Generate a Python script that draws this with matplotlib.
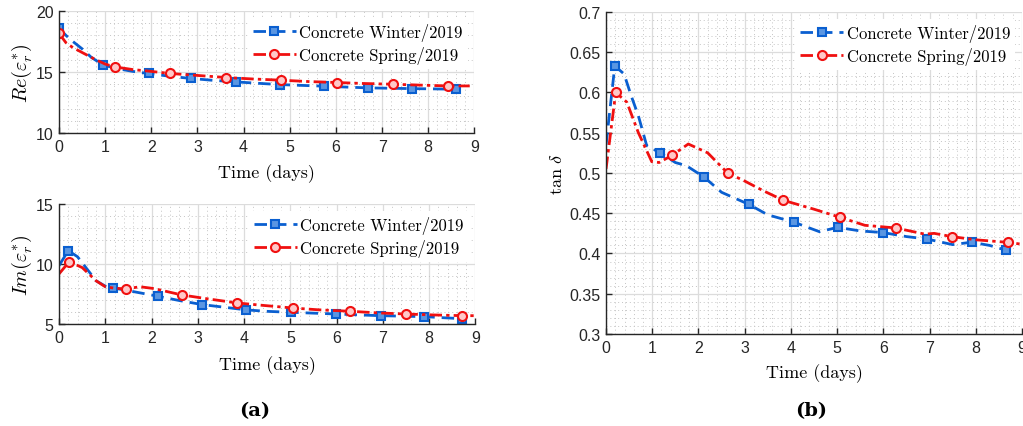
import matplotlib
matplotlib.use("Agg")
import matplotlib.pyplot as plt
from matplotlib.ticker import MultipleLocator

plt.rcParams['mathtext.fontset'] = 'cm'
plt.rcParams['axes.unicode_minus'] = False

SERIF = 'cmr10'
SANS = 'Liberation Sans'

series_names = ["Concrete Winter/2019", "Concrete Spring/2019"]

# --- Real part (Re) ---
re_w_t = [0.0, 0.15, 0.3, 0.5, 0.7, 0.96, 1.3, 1.6, 1.94, 2.4, 2.87, 3.3, 3.84, 4.3, 4.79, 5.3, 5.75, 6.2, 6.7, 7.2, 7.64, 8.1, 8.61]
re_w_v = [18.58, 18.0, 17.5, 16.9, 16.2, 15.56, 15.25, 15.05, 14.88, 14.65, 14.47, 14.33, 14.19, 14.08, 13.97, 13.9, 13.84, 13.77, 13.70, 13.67, 13.64, 13.62, 13.59]
re_w_mark = [0, 5, 8, 10, 12, 14, 16, 18, 20, 22]

re_s_t = [0.0, 0.15, 0.3, 0.5, 0.75, 1.0, 1.21, 1.6, 2.0, 2.41, 3.0, 3.62, 4.2, 4.82, 5.4, 6.02, 6.6, 7.23, 7.8, 8.43, 8.9]
re_s_v = [18.16, 17.4, 17.0, 16.6, 16.1, 15.65, 15.42, 15.2, 15.05, 14.88, 14.72, 14.55, 14.43, 14.33, 14.22, 14.14, 14.06, 14.0, 13.93, 13.86, 13.86]
re_s_mark = [0, 6, 9, 11, 13, 15, 17, 19]

# --- Imaginary part (Im) ---
im_w_t = [0.0, 0.2, 0.4, 0.6, 0.8, 1.0, 1.17, 1.6, 2.14, 2.6, 3.1, 3.6, 4.05, 4.5, 5.02, 5.5, 5.99, 6.5, 6.95, 7.4, 7.9, 8.3, 8.7]
im_w_v = [9.86, 11.11, 10.6, 9.6, 8.6, 8.15, 8.0, 7.7, 7.31, 6.95, 6.61, 6.38, 6.17, 6.05, 5.97, 5.9, 5.83, 5.75, 5.69, 5.65, 5.61, 5.52, 5.44]
im_w_mark = [1, 6, 8, 10, 12, 14, 16, 18, 20, 22]

im_s_t = [0.0, 0.22, 0.5, 0.8, 1.0, 1.2, 1.44, 1.75, 2.05, 2.65, 3.2, 3.85, 4.4, 5.05, 5.6, 6.28, 6.9, 7.49, 8.1, 8.71, 9.0]
im_s_v = [9.17, 10.19, 9.7, 8.6, 8.1, 7.98, 7.92, 8.1, 7.95, 7.42, 7.1, 6.75, 6.55, 6.33, 6.18, 6.06, 5.92, 5.83, 5.75, 5.69, 5.69]
im_s_mark = [1, 6, 9, 11, 13, 15, 17, 19]

# --- Loss tangent (tan delta) ---
tan_w_t = [0.0, 0.19, 0.39, 0.55, 0.7, 0.88, 1.17, 1.5, 1.74, 2.12, 2.5, 3.09, 3.5, 4.06, 4.62, 5.01, 5.5, 5.99, 6.5, 6.94, 7.5, 7.91, 8.3, 8.66]
tan_w_v = [0.535, 0.633, 0.623, 0.595, 0.571, 0.534, 0.525, 0.513, 0.509, 0.495, 0.476, 0.461, 0.448, 0.439, 0.427, 0.4325, 0.428, 0.426, 0.421, 0.418, 0.411, 0.414, 0.410, 0.404]
tan_w_mark = [1, 6, 9, 11, 13, 15, 17, 19, 21, 23]

tan_s_t = [0.0, 0.21, 0.45, 0.7, 0.99, 1.15, 1.43, 1.78, 2.2, 2.63, 3.0, 3.4, 3.84, 4.5, 5.06, 5.6, 6.27, 6.9, 7.1, 7.48, 8.0, 8.7, 8.97]
tan_s_v = [0.505, 0.600, 0.588, 0.55, 0.514, 0.513, 0.522, 0.536, 0.525, 0.500, 0.490, 0.478, 0.466, 0.455, 0.445, 0.435, 0.4317, 0.424, 0.425, 0.421, 0.417, 0.4138, 0.4117]
tan_s_mark = [1, 6, 9, 12, 14, 16, 19, 21]

BLUE = '#0a5fd0'
RED = '#f01010'

fig = plt.figure(figsize=(10.23, 4.27), dpi=100)

def style_axes(ax, xlim, ylim, ymajor, yminor):
    ax.set_xlim(*xlim)
    ax.set_ylim(*ylim)
    ax.xaxis.set_major_locator(MultipleLocator(1))
    ax.xaxis.set_minor_locator(MultipleLocator(0.2))
    ax.yaxis.set_major_locator(MultipleLocator(ymajor))
    ax.yaxis.set_minor_locator(MultipleLocator(yminor))
    ax.grid(True, which='major', color='#dcdcdc', linewidth=0.9, linestyle='-')
    ax.grid(True, which='minor', color='#c4c4c4', linewidth=0.7, linestyle=(0, (1, 3)))
    ax.set_axisbelow(True)
    for side in ['top', 'right']:
        ax.spines[side].set_visible(False)
    for side in ['left', 'bottom']:
        ax.spines[side].set_color('#262626')
        ax.spines[side].set_linewidth(1.0)
    ax.tick_params(which='major', direction='in', length=4, width=1.0, color='#262626',
                   labelsize=11.5, labelcolor='#262626', pad=4)
    ax.tick_params(which='minor', length=0)
    for lab in ax.get_xticklabels() + ax.get_yticklabels():
        lab.set_fontfamily(SANS)

def plot_pair(ax, wt, wv, wm, st, sv, sm):
    ax.plot(wt, wv, linestyle=(0, (4.5, 2.5)), color=BLUE, linewidth=2.0,
            marker='s', markersize=6, markevery=wm, markerfacecolor='#5a96e2',
            markeredgecolor=BLUE, markeredgewidth=1.5, label=series_names[0])
    ax.plot(st, sv, linestyle=(0, (4.5, 1.5, 1.2, 1.5)), color=RED, linewidth=2.0,
            marker='o', markersize=6.5, markevery=sm, markerfacecolor='#ffc8c8',
            markeredgecolor=RED, markeredgewidth=1.5, label=series_names[1])
    leg = ax.legend(loc='upper right', frameon=True, fancybox=False, framealpha=1.0,
                    edgecolor='none', prop={'family': SERIF, 'size': 12},
                    handlelength=2.6, handletextpad=0.2, borderpad=0.3,
                    labelspacing=0.3, borderaxespad=0.4)
    return leg

# top-left
ax1 = fig.add_axes([0.0577, 0.686, 0.406, 0.286])
plot_pair(ax1, re_w_t, re_w_v, re_w_mark, re_s_t, re_s_v, re_s_mark)
style_axes(ax1, (0, 9), (10, 20), 5, 1)
ax1.set_ylabel(r'$Re(\varepsilon_r^{*})$', fontsize=14.5, labelpad=1)
ax1.set_xlabel('Time (days)', family=SERIF, fontsize=13, labelpad=7)

# bottom-left
ax2 = fig.add_axes([0.0577, 0.239, 0.407, 0.281])
plot_pair(ax2, im_w_t, im_w_v, im_w_mark, im_s_t, im_s_v, im_s_mark)
style_axes(ax2, (0, 9), (5, 15), 5, 1)
ax2.set_ylabel(r'$Im(\varepsilon_r^{*})$', fontsize=14.5, labelpad=1)
ax2.set_xlabel('Time (days)', family=SERIF, fontsize=13, labelpad=8)

# right
ax3 = fig.add_axes([0.5924, 0.2155, 0.4066, 0.7541])
plot_pair(ax3, tan_w_t, tan_w_v, tan_w_mark, tan_s_t, tan_s_v, tan_s_mark)
style_axes(ax3, (0, 9), (0.3, 0.7), 0.05, 0.01)
ax3.set_yticks([0.3, 0.35, 0.4, 0.45, 0.5, 0.55, 0.6, 0.65, 0.7])
ax3.set_yticklabels(['0.3', '0.35', '0.4', '0.45', '0.5', '0.55', '0.6', '0.65', '0.7'])
for lab in ax3.get_yticklabels():
    lab.set_fontfamily(SANS)
ax3.set_ylabel(r'$\tan\,\delta$', fontsize=13, labelpad=2)
ax3.set_xlabel('Time (days)', family=SERIF, fontsize=13, labelpad=6)

fig.text(0.2493, 0.038, '(a)', family='DejaVu Serif', weight='bold',
         ha='center', va='center', fontsize=14)
fig.text(0.7928, 0.038, '(b)', family='DejaVu Serif', weight='bold',
         ha='center', va='center', fontsize=14)

fig.savefig('out.png', dpi=100)
